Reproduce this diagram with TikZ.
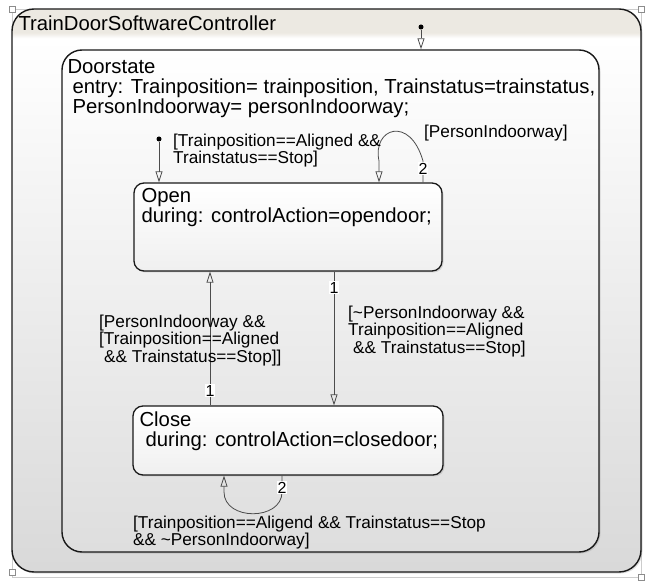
\documentclass[tikz,border=0pt]{standalone}
\usepackage{fontspec}
\setmainfont{Liberation Sans}
\usetikzlibrary{arrows.meta,shadows,positioning}
\definecolor{bandbeige}{RGB}{236,233,226}
\pgfdeclareverticalshading{chartshade}{100bp}{color(0bp)=(black!15); color(25bp)=(black!15); color(72.4bp)=(white); color(72.9bp)=(bandbeige); color(100bp)=(bandbeige)}
\tikzset{
  chart/.style={draw=black!90, line width=1.4pt, rounded corners=22pt, inner sep=0pt, shade, shading=chartshade,
    drop shadow={shadow xshift=1.5pt, shadow yshift=-1.5pt, opacity=0.25}},
  superstate/.style={draw=black!90, line width=1.4pt, rounded corners=20pt, inner sep=0pt, top color=white, bottom color=black!13,
    drop shadow={shadow xshift=1.5pt, shadow yshift=-1.5pt, opacity=0.25}},
  state/.style={draw=black!90, line width=1.3pt, rounded corners=10pt, inner sep=0pt, top color=white, bottom color=black!6,
    drop shadow={shadow xshift=1.5pt, shadow yshift=-1.5pt, opacity=0.25}},
  trans/.style={draw=black!70, line width=0.8pt, -{Triangle[open, length=11pt, width=7pt]}},
  initdot/.style={circle, fill=black, inner sep=0pt, minimum size=5pt},
  num/.style={fill=white, inner sep=0.8pt, font=\fontsize{16}{16}\selectfont},
  bigtext/.style={inner sep=0pt, align=left, font=\fontsize{20.3}{20}\selectfont},
  guard/.style={inner sep=0pt, align=left, font=\fontsize{17.2}{17.5}\selectfont},
  handle/.style={draw=black!45, fill=white, line width=0.6pt}
}
\begin{document}
\begin{tikzpicture}[x=1pt, y=-1pt]
  \useasboundingbox (0,0) rectangle (654,585);
  \draw[black!20, line width=0.5pt] (12,9) rectangle (641,577);
  % chart and states
  \node[chart, minimum width=629pt, minimum height=563pt] (ctrl) at (326.5,290.5) {};
  \node[superstate, minimum width=537pt, minimum height=502pt] (door) at (330.5,301) {};
  \node[state, minimum width=308pt, minimum height=88pt] (open) at (288,227) {};
  \node[state, minimum width=310pt, minimum height=69pt] (close) at (288,440.5) {};
  \node[bigtext, anchor=base west] (ctrltitle) at ([shift={(7,22)}]ctrl.north west) {TrainDoorSoftwareController};
  \node[bigtext, anchor=north west] (doortext) at ([shift={(6,9.6)}]door.north west)
    {Doorstate\\\hspace*{5pt}entry: Trainposition= trainposition, Trainstatus=trainstatus,\\\hspace*{5pt}PersonIndoorway= personIndoorway;};
  \node[bigtext, anchor=north west] (opentext) at ([shift={(8,5.6)}]open.north west)
    {Open\\during: controlAction=opendoor;};
  \node[bigtext, anchor=north west] (closetext) at ([shift={(7,6.6)}]close.north west)
    {Close\\\hspace*{6pt}during: controlAction=closedoor;};

  % default transitions
  \node[initdot] (ctrlinit) at (421,27) {};
  \draw[trans] (ctrlinit) -- (ctrlinit |- door.north);
  \node[initdot] (openinit) at (159,139) {};
  \draw[trans] (openinit) -- (openinit |- open.north);

  % transitions between states
  \coordinate (xdown) at (334,0);
  \coordinate (xup) at (210,0);
  \draw[trans] (open.south -| xdown) -- node[num, pos=0.12] {1} (close.north -| xdown);
  \draw[trans] (close.north -| xup) -- node[num, pos=0.11] {1} (open.south -| xup);

  % self loops
  \coordinate (oloopr) at (423,161);
  \coordinate (oloopl) at (379,161);
  \draw[trans] (open.north -| oloopr) -- node[num, pos=0.65] {2} (oloopr)
    .. controls +(-13,-46) and +(-7,-33) .. (oloopl) -- (open.north -| oloopl);
  \coordinate (cloopr) at (282,492);
  \coordinate (cloopl) at (224,492);
  \draw[trans] (close.south -| cloopr) -- node[num, pos=0.74] {2} (cloopr)
    .. controls +(0,29) and +(0,29) .. (cloopl) -- (close.south -| cloopl);

  % guards
  \node[guard, anchor=north west] (openguard) at (173,133.7) {[Trainposition==Aligned \&\&\\Trainstatus==Stop]};
  \node[guard, anchor=base west] (stayguard) at (424,138) {[PersonIndoorway]};
  \node[guard, anchor=north west] (closeguard) at (348,305.7)
    {[\textasciitilde PersonIndoorway \&\&\\Trainposition==Aligned\\\hspace*{5pt}\&\& Trainstatus==Stop]};
  \node[guard, anchor=north west] (reopenguard) at (99,314.7)
    {[PersonIndoorway \&\&\\{}[Trainposition==Aligned\\\hspace*{5pt}\&\& Trainstatus==Stop]]};
  \node[guard, anchor=north west] (waitguard) at (133,515.7)
    {[Trainposition==Aligend \&\& Trainstatus==Stop\\\&\& \textasciitilde PersonIndoorway]};

  \foreach \p in {(12,9),(641,9),(12,572),(641,577)}
    \draw[handle] \p ++(-3,-3) rectangle ++(6,6);
\end{tikzpicture}
\end{document}
